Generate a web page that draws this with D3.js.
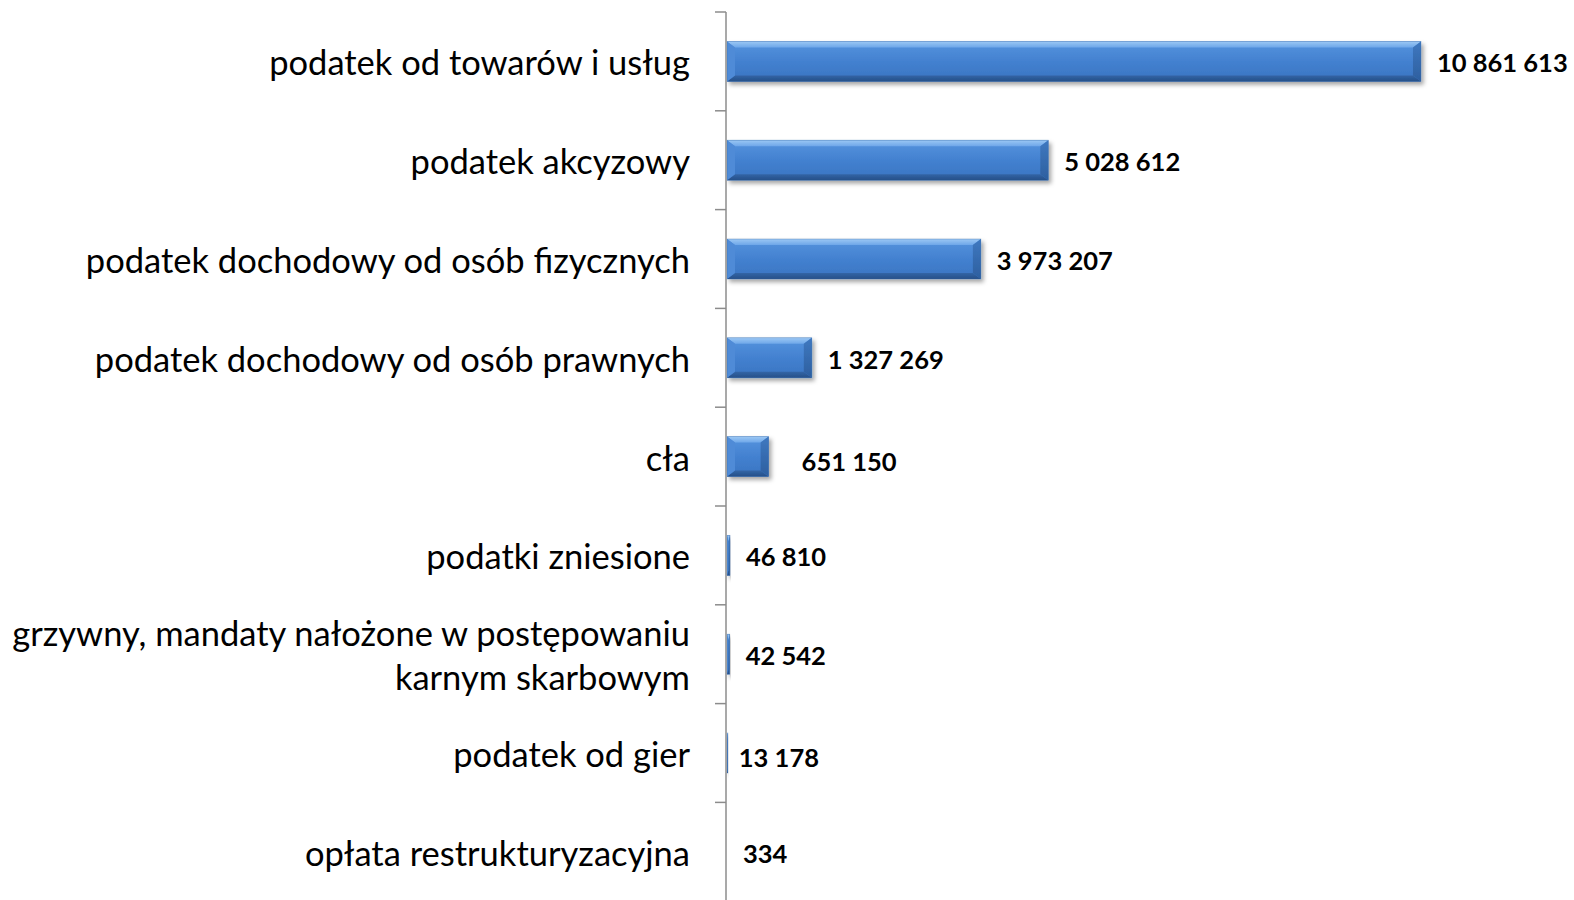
<!DOCTYPE html>
<html>
<head>
<meta charset="utf-8">
<script src="https://cdn.jsdelivr.net/npm/d3@7"></script>
<style>
  html, body { margin: 0; padding: 0; background: #ffffff; }
  svg { display: block; }
</style>
</head>
<body>
<svg id="chart" width="1574" height="900"></svg>
<script>
// ---- data ----
const categories = [
  "podatek od towarów i usług",
  "podatek akcyzowy",
  "podatek dochodowy od osób fizycznych",
  "podatek dochodowy od osób prawnych",
  "cła",
  "podatki zniesione",
  "grzywny, mandaty nałożone w postępowaniu karnym skarbowym",
  "podatek od gier",
  "opłata restrukturyzacyjna"
];
const values = [10861613, 5028612, 3973207, 1327269, 651150, 46810, 42542, 13178, 334];
const valueLabels = ["10 861 613", "5 028 612", "3 973 207", "1 327 269", "651 150", "46 810", "42 542", "13 178", "334"];
const categoryLines = [
  ["podatek od towarów i usług"],
  ["podatek akcyzowy"],
  ["podatek dochodowy od osób fizycznych"],
  ["podatek dochodowy od osób prawnych"],
  ["cła"],
  ["podatki zniesione"],
  ["grzywny, mandaty nałożone w postępowaniu", "karnym skarbowym"],
  ["podatek od gier"],
  ["opłata restrukturyzacyjna"]
];

// ---- layout ----
const axisX = 726;
const bandTop = 12, bandStep = 98.8;
const barH = 40;
const labelNudge = { 4: { dx: 17, dy: 3.5 }, 7: { dx: -5, dy: 3 } };

const svg = d3.select("#chart");
const defs = svg.append("defs");

const y = d3.scaleBand()
  .domain(categories)
  .range([bandTop, bandTop + bandStep * categories.length])
  .padding(0);

const x = d3.scaleLinear()
  .domain([0, 12000000])
  .range([727, 1493.7]);

// gradients
function vgrad(id, stops) {
  const g = defs.append("linearGradient").attr("id", id)
    .attr("x1", 0).attr("y1", 0).attr("x2", 0).attr("y2", 1);
  stops.forEach(([o, c]) => g.append("stop").attr("offset", o).attr("stop-color", c));
}
vgrad("face", [[0, "#5794de"], [0.5, "#4381d0"], [1, "#3a74c1"]]);
vgrad("topB", [[0, "#9cc8f4"], [1, "#6ea7e9"]]);
vgrad("botB", [[0, "#3265a6"], [1, "#264f88"]]);
vgrad("rightB", [[0, "#3f78c0"], [1, "#2d5f9f"]]);

const shadow = defs.append("filter").attr("id", "shadow")
  .attr("x", "-10%").attr("y", "-30%").attr("width", "130%").attr("height", "180%");
shadow.append("feDropShadow")
  .attr("dx", 2.5).attr("dy", 3).attr("stdDeviation", 2)
  .attr("flood-color", "#000").attr("flood-opacity", 0.35);

// bars
const bars = svg.append("g").attr("class", "bars");
categories.forEach((c, i) => {
  const cy = y(c) + y.bandwidth() / 2;
  const x0 = x(0), x1 = x(values[i]);
  const w = Math.max(x1 - x0, 0);
  if (w < 0.3) return;
  const y0 = cy - barH / 2, y1 = cy + barH / 2;
  const g = bars.append("g").attr("filter", "url(#shadow)");
  g.append("rect").attr("x", x0).attr("y", y0).attr("width", w).attr("height", barH)
    .attr("fill", "url(#face)");
  const bx = Math.min(8, w / 2), by = Math.min(6, barH / 2);
  const poly = (pts, fill) => g.append("polygon")
    .attr("points", pts.map(p => p.join(",")).join(" ")).attr("fill", fill);
  poly([[x0, y0], [x1, y0], [x1 - bx, y0 + by], [x0 + bx, y0 + by]], "url(#topB)");
  poly([[x0, y1], [x1, y1], [x1 - bx, y1 - by], [x0 + bx, y1 - by]], "url(#botB)");
  poly([[x0, y0], [x0 + bx, y0 + by], [x0 + bx, y1 - by], [x0, y1]], "#4f8bd7");
  poly([[x1, y0], [x1 - bx, y0 + by], [x1 - bx, y1 - by], [x1, y1]], "url(#rightB)");
  g.append("rect").attr("x", x0).attr("y", y0).attr("width", w).attr("height", barH)
    .attr("fill", "none").attr("stroke", "#3a6aa8").attr("stroke-width", 0.6).attr("stroke-opacity", 0.6);
});

// axis
const axisG = svg.append("g").attr("transform", `translate(${axisX},0)`);
const boundaries = d3.range(categories.length + 1).map(i => bandTop + i * y.step());
axisG.append("line").attr("x1", 0).attr("x2", 0).attr("y1", bandTop).attr("y2", 905)
  .attr("stroke", "#8c8c8c").attr("stroke-width", 1.5);
axisG.selectAll("line.tick").data(boundaries).join("line").attr("class", "tick")
  .attr("x1", -11).attr("x2", 0).attr("y1", d => d).attr("y2", d => d)
  .attr("stroke", "#8c8c8c").attr("stroke-width", 1.5);

// category labels
const catG = svg.append("g")
  .attr("font-family", "Lato, 'Open Sans', sans-serif")
  .attr("font-size", 34.5).attr("fill", "#000").attr("text-anchor", "end");
categories.forEach((c, i) => {
  const cy = y(c) + y.bandwidth() / 2;
  const lines = categoryLines[i];
  const lh = 44;
  const start = cy + 14 - (lines.length - 1) * lh / 2;
  const t = catG.append("text").attr("x", 690);
  lines.forEach((ln, k) => t.append("tspan").attr("x", 690).attr("y", start + k * lh).text(ln));
});

// value labels
const valG = svg.append("g")
  .attr("font-family", "Lato, 'Open Sans', sans-serif")
  .attr("font-weight", "bold").attr("font-size", 25.5).attr("fill", "#000");
categories.forEach((c, i) => {
  const cy = y(c) + y.bandwidth() / 2;
  const n = labelNudge[i] || { dx: 0, dy: 0 };
  valG.append("text")
    .attr("x", x(values[i]) + 16 + n.dx)
    .attr("y", cy + 11 + n.dy)
    .text(valueLabels[i]);
});
</script>
</body>
</html>
